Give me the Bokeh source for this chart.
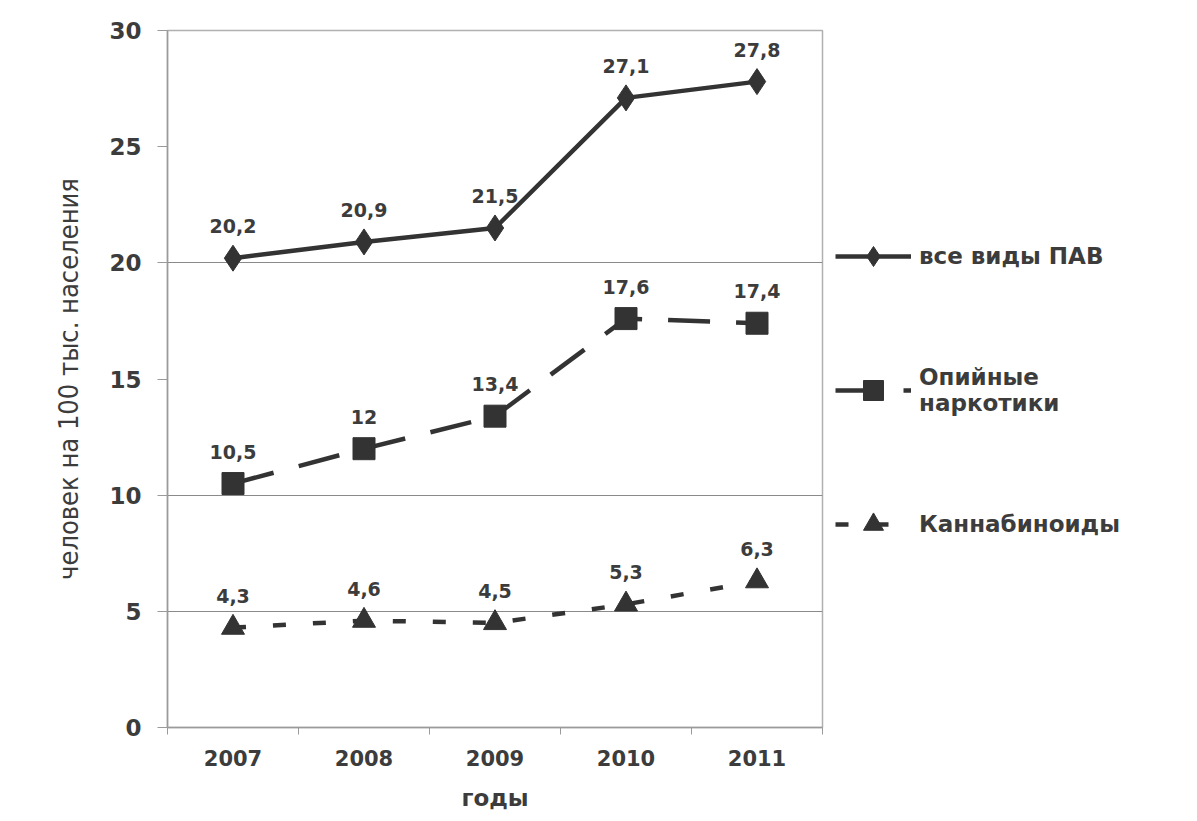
from bokeh.plotting import figure
from bokeh.models import LabelSet, Legend, LegendItem, FixedTicker, Range1d, ColumnDataSource
from bokeh.core.properties import value
from bokeh.embed import file_html
from bokeh.resources import INLINE

years = ["2007", "2008", "2009", "2010", "2011"]
all_pav = [20.2, 20.9, 21.5, 27.1, 27.8]
opioids = [10.5, 12.0, 13.4, 17.6, 17.4]
cannabis = [4.3, 4.6, 4.5, 5.3, 6.3]
series_names = ["все виды ПАВ", "Опийные\nнаркотики", "Каннабиноиды"]
y_ticks = [0, 5, 10, 15, 20, 25, 30]
grid_levels = [5, 10, 20]
y_title = "человек на 100 тыс. населения"
x_title = "годы"

BOLD = "DejaVu Sans"
TXT = "#3c3c3c"
LINE = "#333333"

xs = [i + 0.5 for i in range(len(years))]
bounds = [float(i) for i in range(len(years) + 1)]


def fmt(v):
    return f"{v:g}".replace(".", ",")


p = figure(frame_width=655, frame_height=697,
           x_range=Range1d(0, len(years)), y_range=Range1d(0, 30),
           output_backend="svg", toolbar_location=None,
           min_border_left=167, min_border_top=30, min_border_bottom=86,
           min_border_right=358)
p.background_fill_color = "white"
p.border_fill_color = "white"
p.outline_line_color = "#b0b0b0"
p.outline_line_width = 1.5

# axes
p.xaxis.ticker = FixedTicker(ticks=xs, minor_ticks=bounds)
p.xaxis.major_label_overrides = {x: y for x, y in zip(xs, years)}
p.xaxis.major_tick_line_color = None
p.xaxis.minor_tick_out = 7
p.xaxis.minor_tick_in = 0
p.xaxis.minor_tick_line_color = "#9a9a9a"
p.xaxis.axis_line_color = "#9a9a9a"
p.xaxis.axis_line_width = 1.5
p.xaxis.major_label_standoff = 15
p.xaxis.major_label_text_font = BOLD
p.xaxis.major_label_text_font_style = "bold"
p.xaxis.major_label_text_font_size = "21px"
p.xaxis.major_label_text_color = TXT
p.xaxis.axis_label = x_title
p.xaxis.axis_label_text_font = BOLD
p.xaxis.axis_label_text_font_style = "bold"
p.xaxis.axis_label_text_font_size = "23px"
p.xaxis.axis_label_text_color = TXT
p.xaxis.axis_label_standoff = 16

p.yaxis.ticker = FixedTicker(ticks=y_ticks)
p.yaxis.major_tick_out = 10
p.yaxis.major_tick_in = 0
p.yaxis.major_tick_line_color = "#9a9a9a"
p.yaxis.minor_tick_line_color = None
p.yaxis.axis_line_color = "#9a9a9a"
p.yaxis.axis_line_width = 1.5
p.yaxis.major_label_standoff = 16
p.yaxis.major_label_text_font = BOLD
p.yaxis.major_label_text_font_style = "bold"
p.yaxis.major_label_text_font_size = "23px"
p.yaxis.major_label_text_color = TXT
p.yaxis.axis_label = y_title
p.yaxis.axis_label_text_font = "DejaVu Sans Condensed"
p.yaxis.axis_label_text_font_style = "normal"
p.yaxis.axis_label_text_font_size = "27px"
p.yaxis.axis_label_text_color = TXT
p.yaxis.axis_label_standoff = 22

p.xgrid.grid_line_color = None
p.ygrid.ticker = FixedTicker(ticks=grid_levels)
p.ygrid.grid_line_color = "#8a8a8a"
p.ygrid.grid_line_width = 1.2

series = [
    (all_pav, "solid", "diamond", 26),
    (opioids, "42 26", "square", 22),
    (cannabis, "13 27", "triangle", 23),
]
items = []
for (vals, dash, marker, size), name in zip(series, series_names):
    src = ColumnDataSource(dict(x=xs, y=vals, lab=[fmt(v) for v in vals]))
    ln = p.line("x", "y", source=src, line_width=4.5, line_color=LINE, line_dash=dash)
    mk = p.scatter("x", "y", source=src, marker=marker, size=size,
                   fill_color=LINE, line_color=LINE)
    p.add_layout(LabelSet(x="x", y="y", text="lab", source=src, y_offset=32,
                          text_align="center", text_baseline="middle",
                          text_font=value(BOLD), text_font_style="bold",
                          text_font_size="19px", text_color=TXT))
    items.append(LegendItem(label=name, renderers=[ln, mk]))

legend = Legend(items=items, location=(13, 178), orientation="vertical")
legend.border_line_color = None
legend.background_fill_alpha = 0
legend.margin = 12
legend.padding = 0
legend.glyph_width = 76
legend.glyph_height = 50
legend.label_height = 50
legend.spacing = 83
legend.label_standoff = 8
legend.label_text_font = BOLD
legend.label_text_font_style = "bold"
legend.label_text_font_size = "23px"
legend.label_text_color = TXT
p.add_layout(legend, "right")

open("out.html", "w").write(file_html(p, INLINE))
